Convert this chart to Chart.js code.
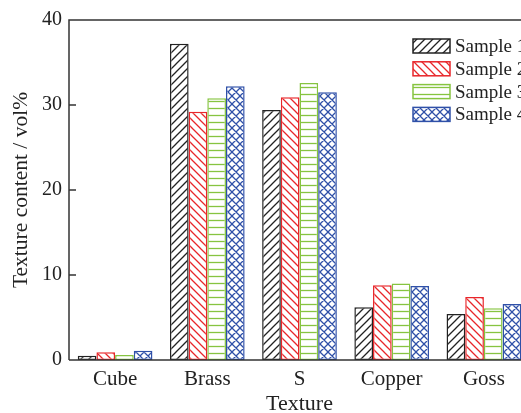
<!DOCTYPE html>
<html>
<head>
<meta charset="utf-8">
<script src="https://cdn.jsdelivr.net/npm/chart.js@4"></script>
<style>
  html, body { margin: 0; padding: 0; background: #fff; overflow: hidden; }
  #wrap { width: 545px; height: 413px; position: relative; }
</style>
</head>
<body>
<div id="wrap"><canvas id="myChart"></canvas></div>
<script>
const categories = ['Cube', 'Brass', 'S', 'Copper', 'Goss'];
const sample1 = [0.5, 37.2, 29.4, 6.2, 5.4];
const sample2 = [0.9, 29.2, 30.9, 8.8, 7.4];
const sample3 = [0.6, 30.8, 32.6, 9.0, 6.1];
const sample4 = [1.1, 32.2, 31.5, 8.7, 6.6];
const seriesNames = ['Sample 1', 'Sample 2', 'Sample 3', 'Sample 4'];
const yTicks = [0, 10, 20, 30, 40];

const font = '"Liberation Serif", "Times New Roman", serif';
const axisColor = '#333';

// small tiles for the hatch fills
function hatch(kind, color) {
  const size = kind === 'h' ? 7 : 8;
  const c = document.createElement('canvas');
  c.width = size; c.height = size;
  const g = c.getContext('2d');
  g.fillStyle = '#fff';
  g.fillRect(0, 0, size, size);
  g.strokeStyle = color;
  g.lineWidth = 1.3;
  g.beginPath();
  if (kind === '/' || kind === 'x') {
    g.moveTo(0, size); g.lineTo(size, 0);
    g.moveTo(-1, 1); g.lineTo(1, -1);
    g.moveTo(size - 1, size + 1); g.lineTo(size + 1, size - 1);
  }
  if (kind === '\\' || kind === 'x') {
    g.moveTo(0, 0); g.lineTo(size, size);
    g.moveTo(size - 1, -1); g.lineTo(size + 1, 1);
    g.moveTo(-1, size - 1); g.lineTo(1, size + 1);
  }
  if (kind === 'h') {
    g.moveTo(0, 3.5); g.lineTo(size, 3.5);
  }
  g.stroke();
  return g.createPattern(c, 'repeat');
}

const colors = ['#222222', '#e8262a', '#86c440', '#2f50a8'];
const kinds = ['/', '\\', 'h', 'x'];
const values = [sample1, sample2, sample3, sample4];

const datasets = values.map((v, i) => ({
  label: seriesNames[i],
  data: v,
  backgroundColor: hatch(kinds[i], colors[i]),
  borderColor: colors[i],
  borderWidth: 1.5,
  borderSkipped: false,
  categoryPercentage: 0.81,
  barPercentage: 1.0
}));

// inner ticks, frame and legend
const extras = {
  id: 'extras',
  afterDraw(chart) {
    const ctx = chart.ctx;
    const a = chart.chartArea;
    const y = chart.scales.y;
    ctx.save();
    ctx.strokeStyle = axisColor;
    ctx.lineWidth = 1.5;
    ctx.beginPath();
    ctx.moveTo(a.left, a.bottom); ctx.lineTo(a.left, a.top);
    ctx.lineTo(a.right, a.top); ctx.lineTo(a.right, a.bottom);
    ctx.lineTo(a.left, a.bottom);
    yTicks.forEach(t => {
      const py = y.getPixelForValue(t);
      ctx.moveTo(a.left, py); ctx.lineTo(a.left + 7, py);
    });
    ctx.stroke();

    // legend
    const lx = 413, ly = 39, step = 22.8;
    chart.data.datasets.forEach((ds, i) => {
      const top = ly + i * step;
      ctx.fillStyle = ds.backgroundColor;
      ctx.fillRect(lx, top, 37, 14);
      ctx.strokeStyle = ds.borderColor;
      ctx.lineWidth = 1.5;
      ctx.strokeRect(lx, top, 37, 14);
      ctx.fillStyle = '#222';
      ctx.font = '19px ' + font;
      ctx.textBaseline = 'middle';
      ctx.textAlign = 'left';
      ctx.fillText(ds.label, lx + 42, top + 8);
    });
    ctx.restore();
  }
};

new Chart(document.getElementById('myChart'), {
  type: 'bar',
  data: { labels: categories, datasets: datasets },
  options: {
    responsive: true,
    maintainAspectRatio: false,
    animation: false,
    layout: { padding: { left: 0, top: 20, right: 15, bottom: 0 } },
    plugins: { legend: { display: false }, tooltip: { enabled: false } },
    scales: {
      x: {
        grid: { display: false, drawTicks: false },
        border: { display: false },
        ticks: { color: '#222', font: { family: font, size: 21 }, padding: 7 },
        title: { display: true, text: 'Texture', color: '#222', font: { family: font, size: 22, lineHeight: 0.8 }, padding: { top: 0, bottom: 0 } },
        afterFit(scale) { scale.height = 53; }
      },
      y: {
        min: 0, max: 40,
        afterBuildTicks(scale) { scale.ticks = yTicks.map(v => ({ value: v })); },
        grid: { display: false, drawTicks: false },
        border: { display: false },
        ticks: { color: '#222', font: { family: font, size: 20 }, padding: 7 },
        title: { display: true, text: 'Texture content / vol%', color: '#222', font: { family: font, size: 21.5 }, padding: { top: 8, bottom: 0 } },
        afterFit(scale) { scale.width = 69; }
      }
    }
  },
  plugins: [extras]
});
</script>
</body>
</html>
